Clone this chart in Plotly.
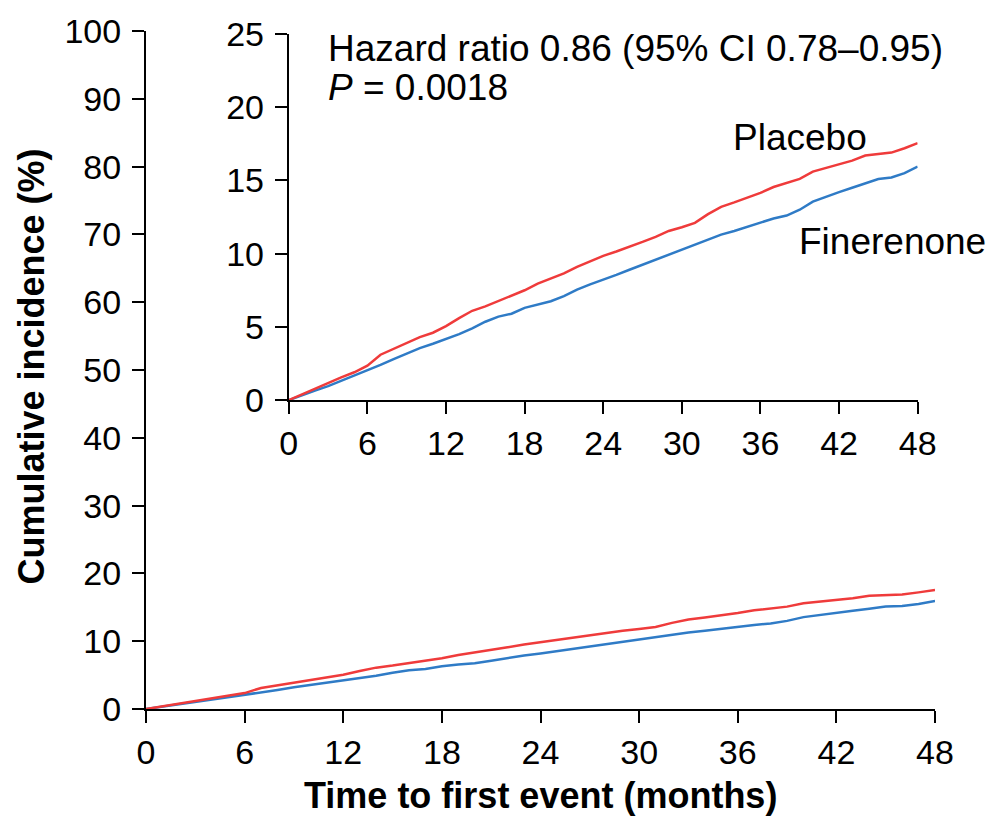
import plotly.graph_objects as go

# Months (time to first event)
months = list(range(0, 49))

# Cumulative incidence (%)
placebo = [0, 0.4, 0.8, 1.2, 1.55, 1.9, 2.35, 3.1, 3.5, 3.9,
           4.3, 4.6, 5.05, 5.6, 6.1, 6.4, 6.75, 7.1, 7.5, 7.95,
           8.3, 8.65, 9.1, 9.5, 9.85, 10.15, 10.45, 10.8, 11.15, 11.55,
           11.8, 12.1, 12.7, 13.2, 13.5, 13.8, 14.15, 14.55, 14.85, 15.1,
           15.6, 15.85, 16.05, 16.35, 16.7, 16.8, 16.9, 17.2, 17.55]
finerenone = [0, 0.35, 0.65, 0.95, 1.3, 1.7, 2.0, 2.4, 2.8, 3.2,
              3.55, 3.85, 4.15, 4.5, 4.9, 5.35, 5.7, 5.9, 6.3, 6.55,
              6.75, 7.1, 7.55, 7.9, 8.2, 8.55, 8.9, 9.25, 9.6, 9.95,
              10.3, 10.6, 10.95, 11.3, 11.55, 11.85, 12.15, 12.4, 12.6, 13.0,
              13.55, 13.9, 14.2, 14.5, 14.8, 15.1, 15.2, 15.5, 15.95]

x_ticks = [0, 6, 12, 18, 24, 30, 36, 42, 48]
main_y_ticks = [0, 10, 20, 30, 40, 50, 60, 70, 80, 90, 100]
inset_y_ticks = [0, 5, 10, 15, 20, 25]

RED = "#EF3B3B"
BLUE = "#2F7BC6"
FONT = "Liberation Sans, Arial, sans-serif"

fig = go.Figure()
for xa, ya in (("x", "y"), ("x2", "y2")):
    fig.add_trace(go.Scatter(x=months, y=finerenone, mode="lines", xaxis=xa, yaxis=ya,
                             line=dict(color=BLUE, width=2.5), showlegend=False))
    fig.add_trace(go.Scatter(x=months, y=placebo, mode="lines", xaxis=xa, yaxis=ya,
                             line=dict(color=RED, width=2.5), showlegend=False))

axis_common = dict(showgrid=False, zeroline=False, showline=True, linecolor="black",
                   linewidth=2, ticks="outside", ticklen=12, tickwidth=2, tickcolor="black",
                   tickfont=dict(family=FONT, size=34, color="black"))

fig.update_layout(
    width=987, height=820,
    margin=dict(l=146, r=52, t=22, b=111),
    plot_bgcolor="white", paper_bgcolor="white",
    xaxis=dict(domain=[0, 1], range=[0, 48], tickvals=x_ticks, anchor="y", **axis_common),
    yaxis=dict(domain=[0, 1], range=[0, 100], tickvals=main_y_ticks, anchor="x",
               ticklabelstandoff=4, **axis_common),
    xaxis2=dict(domain=[0.181, 0.978], range=[0, 48], tickvals=x_ticks, anchor="y2", **axis_common),
    yaxis2=dict(domain=[0.4556, 0.9956], range=[0, 25], tickvals=inset_y_ticks, anchor="x2",
                ticklabelstandoff=4, **axis_common),
)

ann_font = dict(family=FONT, size=37, color="black")
fig.add_annotation(text="Cumulative incidence (%)", xref="paper", yref="paper",
                   x=-0.1445, y=0.505, textangle=-90, showarrow=False,
                   xanchor="center", yanchor="middle",
                   font=dict(family=FONT, size=36, color="black", weight="bold"))
fig.add_annotation(text="Time to first event (months)", xref="paper", yref="paper",
                   x=0.5, y=-0.128, showarrow=False, xanchor="center", yanchor="middle",
                   font=dict(family=FONT, size=36, color="black", weight="bold"))
fig.add_annotation(text="Hazard ratio 0.86 (95% CI 0.78–0.95)", xref="x2", yref="y2",
                   x=2.85, y=24.0, showarrow=False, xanchor="left", yanchor="middle", font=ann_font)
fig.add_annotation(text="<i>P</i> = 0.0018", xref="x2", yref="y2",
                   x=2.85, y=21.35, showarrow=False, xanchor="left", yanchor="middle", font=ann_font)
fig.add_annotation(text="Placebo", xref="x2", yref="y2",
                   x=39.0, y=17.9, showarrow=False, xanchor="center", yanchor="middle", font=ann_font)
fig.add_annotation(text="Finerenone", xref="x2", yref="y2",
                   x=46.1, y=10.8, showarrow=False, xanchor="center", yanchor="middle", font=ann_font)

fig.write_html("out.html")
